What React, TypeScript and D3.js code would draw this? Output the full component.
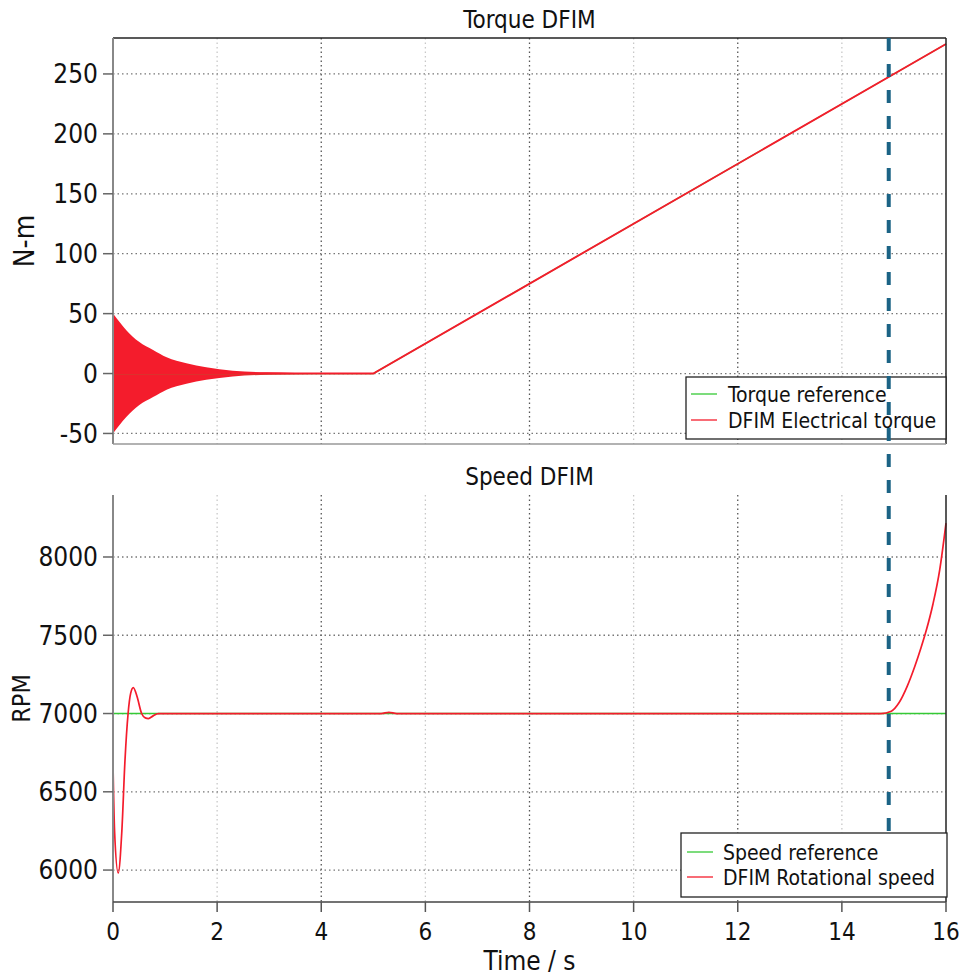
import React from "react";
import * as d3 from "d3";

// ---------- data ----------
const timeTicks = [0, 2, 4, 6, 8, 10, 12, 14, 16];
const torqueTicks = [-50, 0, 50, 100, 150, 200, 250];
const speedTicks = [6000, 6500, 7000, 7500, 8000];

// envelope of the decaying torque oscillation (upper half; lower is mirrored)
const envTime = [0, 0.26, 0.5, 0.77, 1.03, 1.41, 1.79, 2.3, 2.95, 3.5, 4.2];
const envValue = [50, 36, 26.5, 19.6, 13.5, 8.5, 5.2, 2.4, 1.0, 0.5, 0.2];

const torqueTime = [0, 5, 16];
const torqueValue = [0, 0, 275];
const torqueRefTime = [0, 5, 16];
const torqueRefValue = [0, 0, 275];

const speedTime = [0, 0.03, 0.1, 0.17, 0.23, 0.29, 0.34, 0.39, 0.46, 0.55, 0.62, 0.68, 0.77, 0.87, 1.2, 5.15, 5.3, 5.45, 14.75, 14.95, 15.1, 15.25, 15.4, 15.52, 15.62, 15.75, 15.88, 16];
const speedValue = [6674, 6250, 5981, 6250, 6700, 7000, 7130, 7166, 7110, 7000, 6972, 6968, 6985, 7000, 7000, 7000, 7008, 7000, 7000, 7015, 7070, 7170, 7300, 7420, 7530, 7700, 7920, 8217];
const speedRefTime = [0, 16];
const speedRefValue = [7000, 7000];

const markerTime = 14.9;

const RED = "#f41c2c";
const GREEN = "#35c935";
const DASH = "#1b6385";
const FONT = "'DejaVu Sans Condensed', 'DejaVu Sans', sans-serif";

const X0 = 113, X1 = 946;
const x = d3.scaleLinear().domain([0, 16]).range([X0, X1]);

const TOP = { y0: 38, y1: 444 };
const BOT = { y0: 495, y1: 902 };
const yT = d3.scaleLinear().domain([-58.8, 280]).range([TOP.y1, TOP.y0]);
const yS = d3.scaleLinear().domain([5796, 8396]).range([BOT.y1, BOT.y0]);

function Grid({ y, ticks, y0, y1 }: any) {
  return (
    <g>
      {timeTicks.slice(1, -1).map((t) => (
        <line key={"gx" + t} x1={x(t)} x2={x(t)} y1={y0} y2={y1}
          stroke={t % 4 === 0 ? "#555" : "#c8c8c8"} strokeWidth={1.3}
          strokeDasharray="1.5 3" />
      ))}
      {ticks.map((v: number) => (
        <line key={"gy" + v} x1={X0} x2={X1} y1={y(v)} y2={y(v)}
          stroke="#777" strokeWidth={1.3} strokeDasharray="1.5 3" />
      ))}
    </g>
  );
}

function YAxis({ y, ticks }: any) {
  return (
    <g>
      {ticks.map((v: number) => (
        <g key={v}>
          <line x1={X0 - 10} x2={X0} y1={y(v)} y2={y(v)} stroke="#666" strokeWidth={1.5} />
          <text x={X0 - 15} y={y(v)} dy="0.36em" textAnchor="end" fontSize={26}
            fontFamily={FONT} fill="#111">{String(v)}</text>
        </g>
      ))}
    </g>
  );
}

function Legend({ x0, y0, w, h, items, lineX0, lineX1, textX, rowYs }: any) {
  return (
    <g>
      <rect x={x0} y={y0} width={w} height={h} fill="#fff" stroke="#222" strokeWidth={1.3} />
      {items.map((it: any, i: number) => (
        <g key={i}>
          <line x1={lineX0} x2={lineX1} y1={rowYs[i]} y2={rowYs[i]} stroke={it.color} strokeWidth={1.3} />
          <text x={textX} y={rowYs[i]} dy="0.36em" fontSize={21} fontFamily={FONT} fill="#111">{it.label}</text>
        </g>
      ))}
    </g>
  );
}

export default function App() {
  const envIdx = d3.range(envTime.length);
  const envArea = d3.area<number>()
    .x((i) => x(envTime[i]))
    .y0((i) => yT(-envValue[i]))
    .y1((i) => yT(envValue[i]))
    .curve(d3.curveMonotoneX)(envIdx) as string;

  const lineT = d3.line<number>().x((i) => x(torqueTime[i])).y((i) => yT(torqueValue[i]));
  const lineTR = d3.line<number>().x((i) => x(torqueRefTime[i])).y((i) => yT(torqueRefValue[i]));
  const lineS = d3.line<number>().x((i) => x(speedTime[i])).y((i) => yS(speedValue[i])).curve(d3.curveMonotoneX);
  const lineSR = d3.line<number>().x((i) => x(speedRefTime[i])).y((i) => yS(speedRefValue[i]));

  return (
    <svg width={964} height={978} style={{ position: "absolute", left: 0, top: 0, background: "#fff" }}>
      <rect x={0} y={0} width={964} height={978} fill="#fff" />
      {/* ---------- torque panel ---------- */}
      <text x={(X0 + X1) / 2} y={19} dy="0.36em" textAnchor="middle" fontSize={24} fontFamily={FONT} fill="#111">Torque DFIM</text>
      <Grid y={yT} ticks={torqueTicks} y0={TOP.y0} y1={TOP.y1} />
      <path d={envArea} fill={RED} stroke="none" />
      <path d={lineTR(d3.range(torqueRefTime.length)) as string} fill="none" stroke={GREEN} strokeWidth={1.2} />
      <path d={lineT(d3.range(torqueTime.length)) as string} fill="none" stroke={RED} strokeWidth={1.9} />
      <line x1={X0} x2={X1} y1={TOP.y0} y2={TOP.y0} stroke="#222" strokeWidth={1.5} />
      <line x1={X1} x2={X1} y1={TOP.y0} y2={TOP.y1} stroke="#222" strokeWidth={1.5} />
      <line x1={X0} x2={X0} y1={TOP.y0} y2={TOP.y1} stroke="#888" strokeWidth={2} />
      <line x1={X0} x2={X1} y1={TOP.y1} y2={TOP.y1} stroke="#999" strokeWidth={1.5} />
      <YAxis y={yT} ticks={torqueTicks} />
      <text transform={`translate(24,${(TOP.y0 + TOP.y1) / 2}) rotate(-90)`} dy="0.36em" textAnchor="middle" fontSize={28} fontFamily={FONT} fill="#111">N-m</text>
      <Legend x0={686} y0={377} w={260} h={62} lineX0={691} lineX1={717} textX={728} rowYs={[394, 420]}
        items={[{ label: "Torque reference", color: GREEN }, { label: "DFIM Electrical torque", color: RED }]} />

      {/* ---------- speed panel ---------- */}
      <text x={(X0 + X1) / 2} y={476} dy="0.36em" textAnchor="middle" fontSize={24} fontFamily={FONT} fill="#111">Speed DFIM</text>
      <Grid y={yS} ticks={speedTicks} y0={BOT.y0} y1={BOT.y1} />
      <path d={lineSR(d3.range(speedRefTime.length)) as string} fill="none" stroke={GREEN} strokeWidth={1.5} />
      <path d={lineS(d3.range(speedTime.length)) as string} fill="none" stroke={RED} strokeWidth={1.7} />
      <line x1={X1} x2={X1} y1={BOT.y0} y2={BOT.y1} stroke="#222" strokeWidth={1.5} />
      <line x1={X0} x2={X0} y1={BOT.y0} y2={BOT.y1} stroke="#888" strokeWidth={2} />
      <line x1={X0} x2={X1} y1={BOT.y1} y2={BOT.y1} stroke="#444" strokeWidth={1.5} />
      <YAxis y={yS} ticks={speedTicks} />
      {timeTicks.map((t) => (
        <g key={"xt" + t}>
          <line x1={x(t)} x2={x(t)} y1={BOT.y1} y2={BOT.y1 + 10} stroke="#555" strokeWidth={1.5} />
          <text x={x(t)} y={931} dy="0.36em" textAnchor="middle" fontSize={24} fontFamily={FONT} fill="#111">{String(t)}</text>
        </g>
      ))}
      <text x={(X0 + X1) / 2} y={961} dy="0.36em" textAnchor="middle" fontSize={26} fontFamily={FONT} fill="#111">Time / s</text>
      <text transform={`translate(21,${(BOT.y0 + BOT.y1) / 2}) rotate(-90)`} dy="0.36em" textAnchor="middle" fontSize={25} fontFamily={FONT} fill="#111">RPM</text>
      <Legend x0={681} y0={833} w={266} h={64} lineX0={687} lineX1={713} textX={723} rowYs={[852, 877]}
        items={[{ label: "Speed reference", color: GREEN }, { label: "DFIM Rotational speed", color: RED }]} />

      {/* ---------- marker ---------- */}
      <line x1={x(markerTime)} x2={x(markerTime)} y1={TOP.y0} y2={838} stroke={DASH} strokeWidth={4} strokeDasharray="13 13" />
    </svg>
  );
}
